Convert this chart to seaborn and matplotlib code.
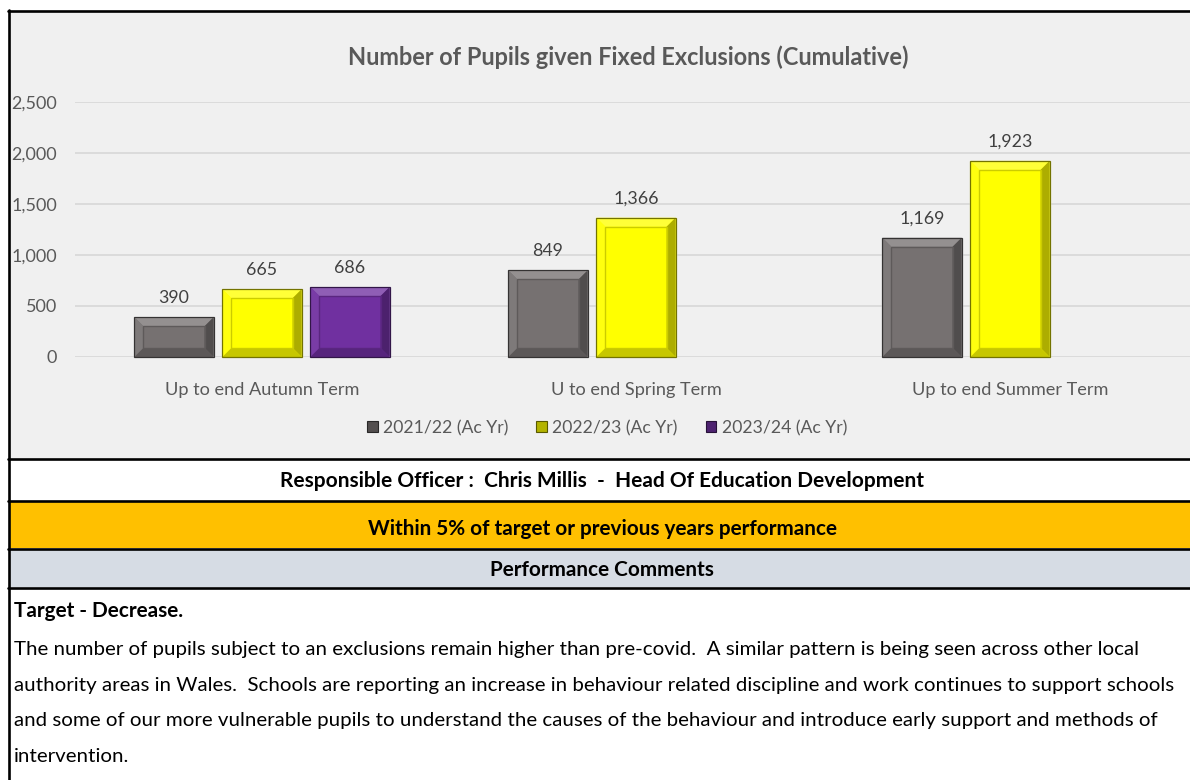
import numpy as np
import pandas as pd
import matplotlib
matplotlib.use("Agg")
import matplotlib.pyplot as plt
import matplotlib.colors as mcolors
from matplotlib import font_manager
from matplotlib.patches import Polygon, Rectangle, Patch
from matplotlib.lines import Line2D
from matplotlib.transforms import IdentityTransform
import seaborn as sns

# ---------------- data ----------------
terms = ["Up to end Autumn Term", "U to end Spring Term", "Up to end Summer Term"]
years = ["2021/22 (Ac Yr)", "2022/23 (Ac Yr)", "2023/24 (Ac Yr)"]
v_2021_22 = [390, 849, 1169]
v_2022_23 = [665, 1366, 1923]
v_2023_24 = [686, None, None]
yticks = [0, 500, 1000, 1500, 2000, 2500]
colors = ["#767171", "#FFFF00", "#7030A0"]

title = "Number of Pupils given Fixed Exclusions (Cumulative)"
officer = "Responsible Officer :  Chris Millis  -  Head Of Education Development"
status = "Within 5% of target or previous years performance"
comments_hdr = "Performance Comments"
target = "Target - Decrease."
comment_lines = [
    "The number of pupils subject to an exclusions remain higher than pre-covid.  A similar pattern is being seen across other local",
    "authority areas in Wales.  Schools are reporting an increase in behaviour related discipline and work continues to support schools",
    "and some of our more vulnerable pupils to understand the causes of the behaviour and introduce early support and methods of",
    "intervention.",
]

rows = []
for vals, yr in zip([v_2021_22, v_2022_23, v_2023_24], years):
    for t, v in zip(terms, vals):
        if v is not None:
            rows.append({"term": t, "year": yr, "value": v})
df = pd.DataFrame(rows)

# ---------------- setup ----------------
W, H = 1190, 780
sns.set_theme(style="white")
avail = {f.name for f in font_manager.fontManager.ttflist}
FAM = "Liberation Sans Narrow" if "Liberation Sans Narrow" in avail else "Lato"
plt.rcParams["font.family"] = [FAM, "DejaVu Sans"]

fig = plt.figure(figsize=(W / 100, H / 100), dpi=100)
fig.patch.set_facecolor("white")
renderer = fig.canvas.get_renderer()


def fx(p):
    return p / W


def fy(p):
    return 1 - p / H


def fit(s, target_px, weight="normal"):
    t = fig.text(0, 0, s, fontsize=20, weight=weight)
    w = t.get_window_extent(renderer=renderer).width
    t.remove()
    return 20 * target_px / w


def mix(c, t, amt):
    c = np.array(mcolors.to_rgb(c))
    t = np.array(mcolors.to_rgb(t))
    return tuple(c * (1 - amt) + t * amt)


fs_title = fit(title, 562, "bold")
fs_tick = fit("2,500", 46)
fs_cat = fit(terms[0], 195)
fs_leg = fit(years[0], 125)
fs_lab = fit("1,923", 45)
fs_off = fit(officer, 645, "bold")
fs_stat = fit(status, 471, "bold")
fs_perf = fit(comments_hdr, 224, "bold")
fs_tgt = fit(target, 170, "bold")
fs_com = fit(comment_lines[1], 1162)

# ---------------- backgrounds & table ----------------
fig.add_artist(Rectangle((fx(10), fy(458)), 1 - fx(10), (458 - 11) / H,
                         transform=fig.transFigure, facecolor="#F0F0F0",
                         edgecolor="none", zorder=-10))
fig.add_artist(Rectangle((fx(10), fy(548)), 1 - fx(10), (548 - 501) / H,
                         transform=fig.transFigure, facecolor="#FFC000",
                         edgecolor="none", zorder=-10))
fig.add_artist(Rectangle((fx(10), fy(587)), 1 - fx(10), (587 - 549) / H,
                         transform=fig.transFigure, facecolor="#D6DCE4",
                         edgecolor="none", zorder=-10))
for yy in [11, 459, 501, 549, 588]:
    fig.add_artist(Line2D([fx(8), 1], [fy(yy), fy(yy)], color="black", lw=1.9,
                          transform=fig.transFigure, zorder=5))
fig.add_artist(Line2D([fx(9), fx(9)], [fy(10), 0], color="black", lw=1.9,
                      transform=fig.transFigure, zorder=5))

# ---------------- chart ----------------
ax = fig.add_axes([fx(75), fy(357), fx(1190) - fx(75), (357 - 102) / H])
ax.set_facecolor("none")
sns.barplot(data=df, x="term", y="value", hue="year", order=terms,
            hue_order=years, palette=colors, saturation=1, width=0.706,
            gap=0.1, legend=False, ax=ax, errorbar=None, zorder=3)
ax.set_ylim(0, 2500)
ax.set_xlim(-0.5, -0.5 + (1190 - 75) / 374)
ax.set_yticks(yticks)
ax.set_yticklabels([f"{v:,}" for v in yticks])
ax.yaxis.grid(True, color="#D9D9D9", lw=1.3)
ax.set_axisbelow(True)
for s in ax.spines.values():
    s.set_visible(False)
ax.set_xlabel("")
ax.set_ylabel("")
ax.tick_params(axis="y", length=0, pad=13, labelsize=fs_tick, labelcolor="#595959")
ax.tick_params(axis="x", length=0, pad=18, labelsize=fs_cat, labelcolor="#595959")

for cont in ax.containers:
    ax.bar_label(cont, fmt="{:,.0f}", padding=8, fontsize=fs_lab, color="#404040")

fig.canvas.draw()
ident = IdentityTransform()
for bar in list(ax.patches):
    bb = bar.get_window_extent(renderer)
    x0, y0, x1, y1 = bb.x0, bb.y0, bb.x1, bb.y1
    if y1 - y0 < 1:
        continue
    fc = bar.get_facecolor()[:3]
    b = min(9, (y1 - y0) / 4)
    parts = [
        ([(x0, y1), (x1, y1), (x1 - b, y1 - b), (x0 + b, y1 - b)], mix(fc, "white", 0.22)),
        ([(x0, y0), (x0, y1), (x0 + b, y1 - b), (x0 + b, y0 + b)], mix(fc, "white", 0.06)),
        ([(x1, y0), (x1, y1), (x1 - b, y1 - b), (x1 - b, y0 + b)], mix(fc, "black", 0.32)),
        ([(x0, y0), (x1, y0), (x1 - b, y0 + b), (x0 + b, y0 + b)], mix(fc, "black", 0.22)),
    ]
    for pts, col in parts:
        ax.add_patch(Polygon(pts, closed=True, transform=ident, facecolor=col,
                             edgecolor="none", zorder=4, clip_on=False))
    ax.add_patch(Rectangle((x0 + b, y0 + b), x1 - x0 - 2 * b, y1 - y0 - 2 * b,
                           transform=ident, facecolor="none",
                           edgecolor=mix(fc, "black", 0.2), lw=1.0, zorder=5,
                           clip_on=False))
    ax.add_patch(Rectangle((x0, y0), x1 - x0, y1 - y0, transform=ident,
                           facecolor="none", edgecolor=mix(fc, "black", 0.55),
                           lw=0.9, zorder=6, clip_on=False))

handles = [Patch(facecolor=mix(c, "black", 0.3), edgecolor=mix(c, "black", 0.65), lw=0.8)
           for c in colors]
fig.legend(handles, years, loc="center", bbox_to_anchor=(fx(607), fy(428)),
           ncol=3, frameon=False, fontsize=fs_leg, handlelength=0.6,
           handleheight=0.6, handletextpad=0.3, columnspacing=1.6,
           labelcolor="#595959")

fig.text(fx(628), fy(65), title, ha="center", va="baseline", fontsize=fs_title,
         weight="bold", color="#595959")

# ---------------- table texts ----------------
fig.text(fx(602), fy(487), officer, ha="center", va="baseline", fontsize=fs_off,
         weight="bold", color="black")
fig.text(fx(602), fy(535), status, ha="center", va="baseline", fontsize=fs_stat,
         weight="bold", color="black")
fig.text(fx(602), fy(576), comments_hdr, ha="center", va="baseline", fontsize=fs_perf,
         weight="bold", color="black")
fig.text(fx(14), fy(617), target, ha="left", va="baseline", fontsize=fs_tgt,
         weight="bold", color="black")
for i, line in enumerate(comment_lines):
    fig.text(fx(14), fy(655 + 35.5 * i), line, ha="left", va="baseline",
             fontsize=fs_com, color="black")

fig.savefig("out.png", dpi=100, facecolor="white")
